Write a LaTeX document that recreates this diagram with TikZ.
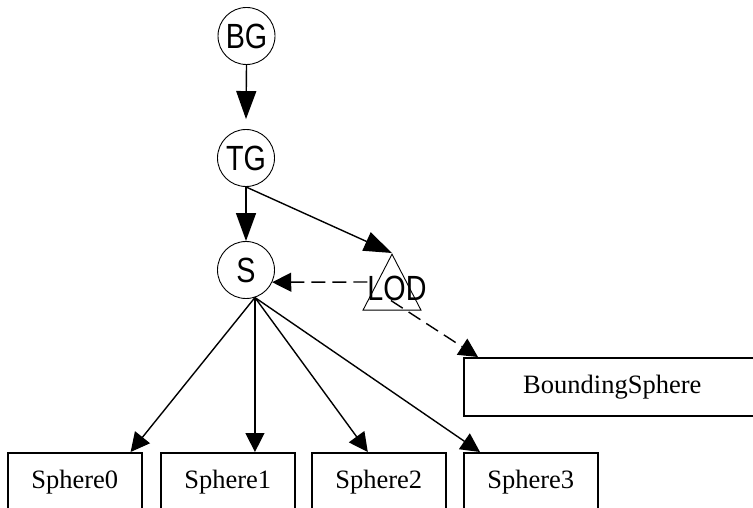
\documentclass[tikz,border=0pt]{standalone}
\usepackage{fontspec}
\setmainfont{Liberation Serif}
\newfontfamily\narrowsans[FakeStretch=0.82]{Liberation Sans}
\usetikzlibrary{arrows.meta,shapes.geometric}

\begin{document}
\begin{tikzpicture}[x=1pt, y=-1pt, >={Triangle[length=28pt,width=20pt]},
  grp/.style={draw, circle, line width=0.9pt, minimum size=57pt, inner sep=0pt, font=\narrowsans\fontsize{35}{35}\selectfont},
  obj/.style={draw, rectangle, line width=1.6pt, minimum width=134pt, minimum height=58pt, anchor=north west, font=\fontsize{26.5}{26.5}\selectfont},
  conn/.style={line width=1.4pt},
  tipsmall/.style={-{Triangle[length=19pt,width=19pt]}},
  dashlink/.style={dash pattern=on 14pt off 7pt}]
\clip (0,0) rectangle (753,508);
\node[grp] (bg) at (246.5,36) {BG};
\node[grp] (tg) at (246,158) {TG};
\node[grp] (s) at (246,270) {S};
\node[draw, isosceles triangle, shape border rotate=90, isosceles triangle stretches, minimum width=58pt, minimum height=56pt, inner sep=0pt, line width=0.9pt, anchor=apex] (lod) at (392,253) {};
\node[inner sep=0pt, font=\narrowsans\fontsize{35}{35}\selectfont] (lodtxt) at (397,288) {LOD};
\node[obj, minimum width=297pt] (bsph) at (463,357) {BoundingSphere};
\node[obj] (sp0) at (7,452) {Sphere0};
\node[obj] (sp1) at (160,452) {Sphere1};
\node[obj] (sp2) at (311,452) {Sphere2};
\node[obj] (sp3) at (463,452) {Sphere3};
\coordinate (fan) at (s.-72);
% group links
\draw[conn,->] (bg.south) -- ([yshift=10pt]tg.north);
\draw[conn,->] (tg.south) -- (s.north);
\draw[conn,->] (tg.south) -- (lod.apex);
% references from LOD
\draw[conn,dashlink,tipsmall] ([yshift=6pt]lodtxt.west) -- (s.-25);
\draw[conn,dashlink,tipsmall] ([xshift=-6pt]lodtxt.south) -- ([xshift=15pt]bsph.north west);
% shape children
\draw[conn,tipsmall] (fan) -- ([xshift=-12pt]sp0.north east);
\draw[conn,tipsmall] (fan) -- (fan |- sp1.north);
\draw[conn,tipsmall] (fan) -- ([xshift=-11pt]sp2.north);
\draw[conn,tipsmall] (fan) -- ([xshift=17pt]sp3.north west);
\end{tikzpicture}
\end{document}
